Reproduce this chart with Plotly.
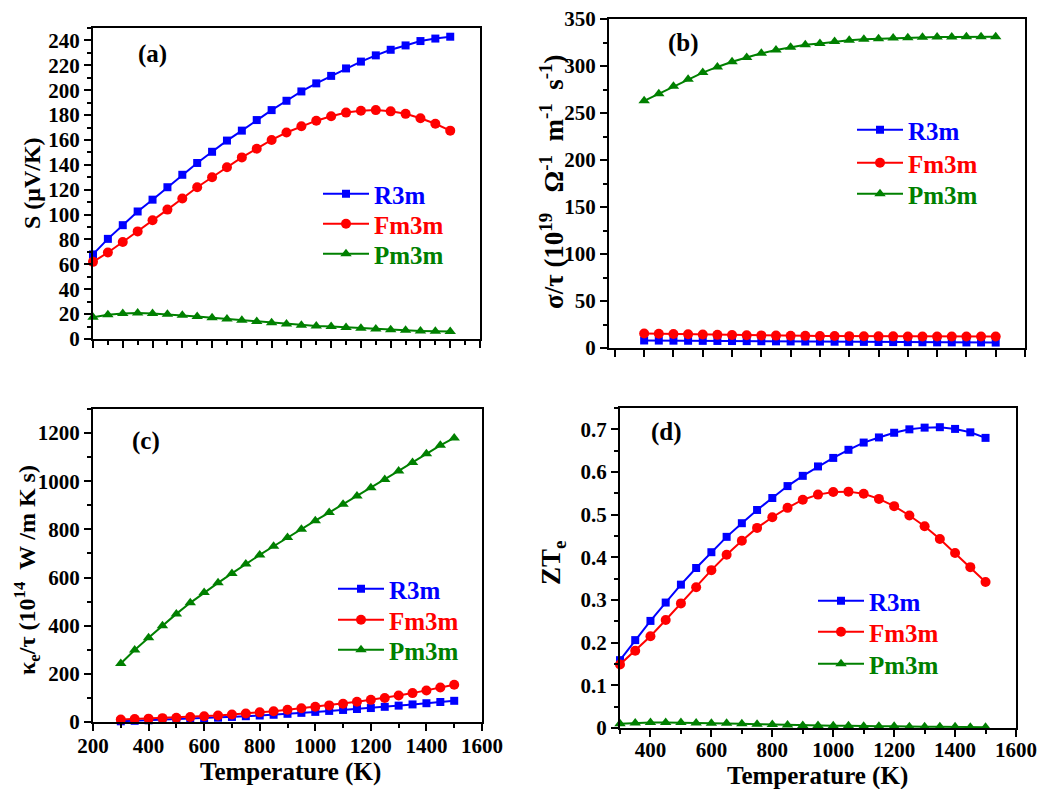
import plotly.graph_objects as go

T = [300, 350, 400, 450, 500, 550, 600, 650, 700, 750, 800, 850, 900,
     950, 1000, 1050, 1100, 1150, 1200, 1250, 1300, 1350, 1400, 1450, 1500]

# (a) Seebeck coefficient S (uV/K)
S_R3m = [68, 80.5, 91.5, 102.5, 112, 122, 132, 141.5, 150.5, 159.5, 167.5, 176, 184,
         191.5, 199, 205.5, 211.5, 217.5, 223, 228, 232.5, 236, 239.5, 241.5, 243]
S_Fm3m = [62, 69.5, 78, 86.5, 95.5, 104, 113, 122, 130, 138, 146, 153, 160,
          166, 171, 175.5, 179, 182, 183.5, 184, 183, 181, 177.5, 173, 167.5]
S_Pm3m = [17.5, 19.5, 20.5, 21, 20.5, 19.8, 19, 18, 17, 16, 15, 14, 13,
          12, 11, 10.5, 10, 9.3, 8.7, 8, 7.5, 7, 6.5, 6.2, 6]

# (b) sigma/tau (1e19 Ohm^-1 m^-1 s^-1)
sig_R3m = [8, 7.9, 7.8, 7.7, 7.6, 7.5, 7.4, 7.3, 7.2, 7.1, 7, 6.9, 6.8,
           6.7, 6.6, 6.5, 6.4, 6.3, 6.2, 6.1, 6.0, 6.0, 5.9, 5.9, 5.8]
sig_Fm3m = [15.5, 15.2, 14.9, 14.6, 14.3, 14.0, 13.8, 13.6, 13.4, 13.2, 13.0, 12.9, 12.8,
            12.7, 12.6, 12.5, 12.4, 12.4, 12.3, 12.3, 12.2, 12.2, 12.2, 12.2, 12.2]
sig_Pm3m = [263, 270.5, 278.5, 286, 293, 299, 304.5, 309, 313.5, 317, 320, 322.5, 324,
            326, 327.3, 328.4, 329, 329.8, 330.1, 330.5, 330.9, 330.9, 331.2, 331.2, 331.2]

# (c) kappa_e/tau (1e14 W/m K s)
ke_R3m = [3, 5, 7, 9, 11, 13, 15, 18, 21, 24, 27, 30, 34,
          38, 42, 46, 50, 54, 58, 63, 68, 73, 78, 83, 88]
ke_Fm3m = [10, 12, 14, 16, 18, 21, 24, 27, 31, 35, 40, 45, 51,
           57, 63, 69, 76, 84, 92, 100, 110, 120, 131, 143, 155]
ke_Pm3m = [243, 299, 350, 400, 449, 495, 538, 578, 617, 656, 694, 730, 766,
           801, 836, 870, 904, 939, 973, 1007, 1043, 1078, 1114, 1149, 1180]

# (d) ZTe
zt_R3m = [0.159, 0.206, 0.251, 0.294, 0.336, 0.375, 0.412, 0.448, 0.480, 0.511, 0.539, 0.567, 0.591,
          0.613, 0.633, 0.652, 0.669, 0.681, 0.692, 0.700, 0.704, 0.705, 0.701, 0.693, 0.680]
zt_Fm3m = [0.149, 0.181, 0.215, 0.253, 0.292, 0.330, 0.370, 0.406, 0.439, 0.469, 0.494, 0.516, 0.535,
           0.547, 0.553, 0.554, 0.549, 0.537, 0.520, 0.498, 0.473, 0.443, 0.410, 0.377, 0.342]
zt_Pm3m = [0.010, 0.012, 0.013, 0.013, 0.013, 0.012, 0.011, 0.011, 0.010, 0.009, 0.008, 0.007, 0.006,
           0.006, 0.005, 0.005, 0.004, 0.004, 0.004, 0.003, 0.003, 0.003, 0.003, 0.002, 0.002]

names = ["R3m", "Fm3m", "Pm3m"]
colors = ["#0000FF", "#FF0000", "#008000"]
symbols = ["square", "circle", "triangle-up"]
msizes = [8, 10, 10]

W, H = 1037, 789
FONT = "Liberation Serif"
NB = "\u00a0"

def px_x(a, b):
    return [a / W, b / W]

def px_y(top, bottom):
    return [1 - bottom / H, 1 - top / H]

fig = go.Figure()

# legend placement per panel: (line start x, row centers y) in pixels
leg_pos = [
    (323, [194, 224, 254]),
    (857, [130, 163, 194]),
    (338, [589, 620, 650]),
    (818, [601, 632, 664]),
]

panels = [
    dict(x="x", y="y", data=[S_R3m, S_Fm3m, S_Pm3m]),
    dict(x="x2", y="y2", data=[sig_R3m, sig_Fm3m, sig_Pm3m]),
    dict(x="x3", y="y3", data=[ke_R3m, ke_Fm3m, ke_Pm3m]),
    dict(x="x4", y="y4", data=[zt_R3m, zt_Fm3m, zt_Pm3m]),
]

legends = {}
k = 0
for pi, p in enumerate(panels):
    lx, rows = leg_pos[pi]
    for i in range(3):
        k += 1
        lname = "legend" if k == 1 else f"legend{k}"
        fig.add_trace(go.Scatter(
            x=T, y=p["data"][i], xaxis=p["x"], yaxis=p["y"],
            mode="lines+markers",
            name=f'<span style="color:{colors[i]}">{names[i]}</span>',
            line=dict(color=colors[i], width=2),
            marker=dict(symbol=symbols[i], size=msizes[i], color=colors[i],
                        line=dict(width=0)),
            legend=lname, cliponaxis=False,
        ))
        legends[lname] = dict(
            x=(lx - 5) / W, y=1 - rows[i] / H, xanchor="left", yanchor="middle",
            bgcolor="rgba(0,0,0,0)", borderwidth=0, itemwidth=46,
            font=dict(family=FONT, size=25, weight="bold"),
        )

tickfont = dict(family=FONT, size=21, color="black", weight="bold")

def xax(anchor, domain, rng, dtick, tick0, labels, minor_dtick, lstand=-3):
    return dict(anchor=anchor, domain=domain, range=rng, dtick=dtick, tick0=tick0,
                showline=True, linecolor="black", linewidth=2, mirror=True,
                ticks="outside", ticklen=7, tickwidth=2, tickcolor="black",
                showticklabels=labels, tickfont=tickfont, showgrid=False,
                zeroline=False, automargin=False, ticklabeloverflow="allow",
                ticklabelstandoff=lstand,
                minor=dict(dtick=minor_dtick, tick0=tick0, ticks="outside",
                           ticklen=4, tickwidth=2, tickcolor="black", showgrid=False))

def yax(anchor, domain, rng, dtick, minor_dtick):
    return dict(anchor=anchor, domain=domain, range=rng, dtick=dtick, tick0=0,
                showline=True, linecolor="black", linewidth=2, mirror=True,
                ticks="outside", ticklen=7, tickwidth=2, tickcolor="black",
                tickfont=tickfont, showgrid=False, zeroline=False, automargin=False,
                ticklabeloverflow="allow",
                minor=dict(dtick=minor_dtick, tick0=0, ticks="outside",
                           ticklen=4, tickwidth=2, tickcolor="black", showgrid=False))

sig_title = (f"σ/τ{NB}(10<sup>19</sup>{NB}{NB}{NB}Ω<sup>-1</sup>{NB}{NB}"
             f"m<sup>-1</sup>{NB}{NB}s<sup>-1</sup>)")
ke_title = f"κ<sub>e</sub>/τ{NB}(10<sup>14</sup>{NB}{NB}W{NB}/m{NB}K{NB}s)"

fig.update_layout(
    width=W, height=H,
    margin=dict(l=0, r=0, t=0, b=0),
    paper_bgcolor="white", plot_bgcolor="white",
    font=dict(family=FONT, color="black"),
    showlegend=True,
    xaxis=xax("y", px_x(93, 480), [300, 1600], 100, 300, False, 50),
    yaxis=yax("x", px_y(28, 339), [0, 250], 20, 10),
    xaxis2=xax("y2", px_x(609, 1025), [180, 1600], 100, 300, False, 100),
    yaxis2=yax("x2", px_y(19, 348), [0, 350], 50, 25),
    xaxis3=xax("y3", px_x(93, 482), [200, 1600], 200, 200, True, 100),
    yaxis3=yax("x3", px_y(409, 722), [0, 1300], 200, 100),
    xaxis4=xax("y4", px_x(620, 1016), [300, 1600], 200, 200, True, 100, -5),
    yaxis4=yax("x4", px_y(408, 728), [0, 0.75], 0.1, 0.05),
    **legends,
)

# axis titles: (text, cx, cy, angle, size)
titles = [
    ("S (μV/K)", 32, 183, -90, 24),
    (sig_title, 552, 182, -90, 27),
    (ke_title, 27, 570, -90, 24),
    ("ZT<sub>e</sub>", 553, 563, -90, 27),
    ("Temperature (K)", 290, 772, 0, 25),
    ("Temperature (K)", 817, 776, 0, 25),
]
for txt, cx, cy, ang, sz in titles:
    fig.add_annotation(text=txt, x=cx / W, y=1 - cy / H, xref="paper", yref="paper",
                       showarrow=False, xanchor="center", yanchor="middle", textangle=ang,
                       font=dict(family=FONT, size=sz, weight="bold", color="black"))

labels = [("(a)", 152, 54), ("(b)", 683, 43), ("(c)", 146, 441), ("(d)", 666, 432)]
for txt, cx, cy in labels:
    fig.add_annotation(text=txt, x=cx / W, y=1 - cy / H, xref="paper", yref="paper",
                       showarrow=False, xanchor="center", yanchor="middle",
                       font=dict(family=FONT, size=25, weight="bold", color="black"))

fig.write_html("out.html")
